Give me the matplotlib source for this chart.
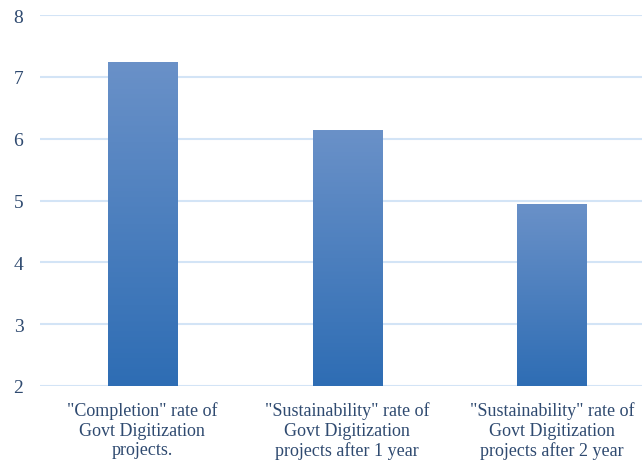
import numpy as np
import matplotlib
matplotlib.use('Agg')
import matplotlib.pyplot as plt
from matplotlib.colors import LinearSegmentedColormap

categories = ['"Completion" rate of\nGovt Digitization\nprojects.',
              '"Sustainability" rate of\nGovt Digitization\nprojects after 1 year',
              '"Sustainability" rate of\nGovt Digitization\nprojects after 2 year']
values = [7.24, 6.14, 4.94]
yticks = [2, 3, 4, 5, 6, 7, 8]

text_color = '#2F4A70'
plt.rcParams['font.family'] = ['Liberation Serif', 'DejaVu Serif']

fig = plt.figure(figsize=(6.42, 4.64), dpi=100)
ax = fig.add_axes([40 / 642, 77 / 464, 1 - 40 / 642, (387 - 16) / 464])

x = np.arange(len(categories))
bars = ax.bar(x, values, width=0.337, bottom=0, color='none', zorder=2)

# vertical gradient fill, light at the top, dark at the bottom of each bar
cmap = LinearSegmentedColormap.from_list('bar', ['#2E6DB4', '#6A91C8'])
grad = np.linspace(0, 1, 256).reshape(-1, 1)
for bar in bars:
  x0, w, h = bar.get_x(), bar.get_width(), bar.get_height()
  im = ax.imshow(grad, cmap=cmap, aspect='auto', origin='lower',
                 extent=(x0, x0 + w, 2, h), zorder=2)
  im.set_clip_path(bar)

ax.set_xlim(-0.5, 2.44)
ax.set_ylim(2, 8)
ax.set_yticks(yticks)
ax.yaxis.grid(True, color='#D3E4F6', linewidth=1.5, zorder=0)
ax.set_axisbelow(True)
for s in ax.spines.values():
  s.set_visible(False)
ax.tick_params(axis='both', length=0, colors=text_color)
ax.tick_params(axis='y', pad=12, labelsize=14)
ax.tick_params(axis='x', pad=11, labelsize=13)
ax.set_xticks(x)
ax.set_xticklabels(categories, linespacing=1.2)

fig.savefig('out.png', dpi=100)
